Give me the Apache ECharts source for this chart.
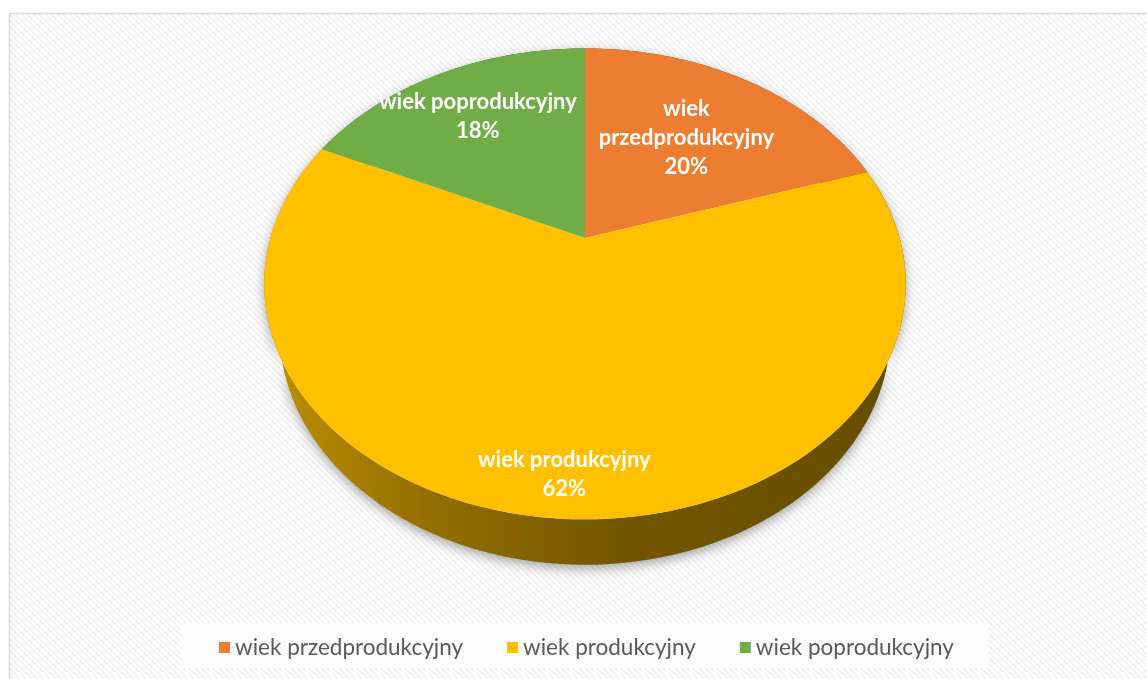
<!DOCTYPE html>
<html>
<head>
<meta charset="utf-8">
<script src="https://cdn.jsdelivr.net/npm/echarts@6/dist/echarts.min.js"></script>
<style>
html, body { margin: 0; padding: 0; background: #fff; }
#chart { width: 1147px; height: 679px; }
</style>
</head>
<body>
<div id="chart"></div>
<script>
const categories = ['wiek przedprodukcyjny', 'wiek produkcyjny', 'wiek poprodukcyjny'];
const shares = [20, 62, 18];
const sliceLabels = ['wiek\nprzedprodukcyjny', 'wiek produkcyjny', 'wiek poprodukcyjny'];
const colors = ['#ED7D31', '#FFC000', '#70AD47'];

// perspective camera for the tilted disc (unit radius)
const view = { cx: 585, cy: 238, focal: 1120, dist: 3.56, sin: 0.72, cos: 0.694, depth: 0.24 };
const labelRadius = [0.6, 0.87, 0.71];

function project(x, z, y) {
    const yv = z * view.sin + y * view.cos;
    const zv = view.dist + z * view.cos - y * view.sin;
    return [view.cx + view.focal * x / zv, view.cy - view.focal * yv / zv];
}

function total() {
    return shares.reduce((a, b) => a + b, 0);
}

function shade(hex, f) {
    const n = parseInt(hex.slice(1), 16);
    const r = Math.round(((n >> 16) & 255) * f);
    const g = Math.round(((n >> 8) & 255) * f);
    const b = Math.round((n & 255) * f);
    return 'rgb(' + r + ',' + g + ',' + b + ')';
}

function sliceAngles(idx) {
    let before = 0;
    for (let i = 0; i < idx; i++) before += shares[i];
    const start = Math.PI / 2 - before / total() * Math.PI * 2;
    const end = start - shares[idx] / total() * Math.PI * 2;
    return [start, end];
}

function ring(start, end, y) {
    const pts = [];
    const steps = Math.max(8, Math.ceil(Math.abs(end - start) / 0.02));
    for (let i = 0; i <= steps; i++) {
        const a = start + (end - start) * i / steps;
        pts.push(project(Math.cos(a), Math.sin(a), y));
    }
    return pts;
}

function renderSlice(params, api) {
    const idx = params.seriesIndex;
    const value = api.value(0);
    const [start, end] = sliceAngles(idx);
    const color = colors[idx];
    const top = ring(start, end, 0);
    const bottom = ring(start, end, -view.depth).reverse();
    const mid = (start + end) / 2;
    const r = labelRadius[idx];
    const lp = project(Math.cos(mid) * r, Math.sin(mid) * r, 0);
    const pct = Math.round(value / total() * 100) + '%';
    return {
        type: 'group',
        children: [
            {
                type: 'polygon',
                z2: 1,
                shape: { points: top.concat(bottom) },
                style: {
                    fill: new echarts.graphic.LinearGradient(262, 0, 908, 0, [
                        { offset: 0, color: shade(color, 0.75) },
                        { offset: 0.25, color: shade(color, 0.58) },
                        { offset: 0.55, color: shade(color, 0.45) },
                        { offset: 1, color: shade(color, 0.4) }
                    ], true),
                    shadowBlur: 12,
                    shadowColor: 'rgba(0,0,0,0.35)',
                    shadowOffsetY: 4
                }
            },
            {
                type: 'polygon',
                z2: 10,
                shape: { points: [project(0, 0, 0)].concat(top) },
                style: { fill: color }
            },
            {
                type: 'text',
                z2: 20,
                x: lp[0],
                y: lp[1],
                style: {
                    text: sliceLabels[idx] + '\n' + pct,
                    fill: '#fff',
                    font: 'bold 22px Lato',
                    lineHeight: 29,
                    align: 'center',
                    verticalAlign: 'middle'
                }
            }
        ]
    };
}

function hatch() {
    const n = 6;
    const c = document.createElement('canvas');
    c.width = n;
    c.height = n;
    const ctx = c.getContext('2d');
    const img = ctx.createImageData(n, n);
    for (let y = 0; y < n; y++) {
        for (let x = 0; x < n; x++) {
            const k = ((x - y) % n + n) % n;
            const v = k < 3 ? 243 : 255;
            const p = (y * n + x) * 4;
            img.data[p] = v; img.data[p + 1] = v; img.data[p + 2] = v; img.data[p + 3] = 255;
        }
    }
    ctx.putImageData(img, 0, 0);
    return c;
}

const chart = echarts.init(document.getElementById('chart'), null, { renderer: 'canvas' });

const option = {
    animation: false,
    backgroundColor: '#fff',
    graphic: [
        {
            type: 'rect',
            z: 0,
            silent: true,
            shape: { x: 9.5, y: 13.5, width: 1160, height: 690 },
            style: { fill: { image: hatch(), repeat: 'repeat' }, stroke: '#d9d9d9', lineWidth: 1.5 }
        },
        {
            type: 'rect',
            z: 1,
            silent: true,
            shape: { x: 181, y: 623, width: 808, height: 45 },
            style: { fill: '#fcfcfc' }
        }
    ],
    legend: {
        data: categories,
        left: 219,
        top: 636,
        padding: 0,
        icon: 'rect',
        itemWidth: 11,
        itemHeight: 11,
        itemGap: 44,
        textStyle: { fontFamily: 'Lato', fontSize: 22.5, color: '#595959' }
    },
    series: categories.map((name, i) => ({
        type: 'custom',
        name: name,
        coordinateSystem: 'none',
        itemStyle: { color: colors[i] },
        renderItem: renderSlice,
        data: [[shares[i]]]
    }))
};

chart.setOption(option);
</script>
</body>
</html>
